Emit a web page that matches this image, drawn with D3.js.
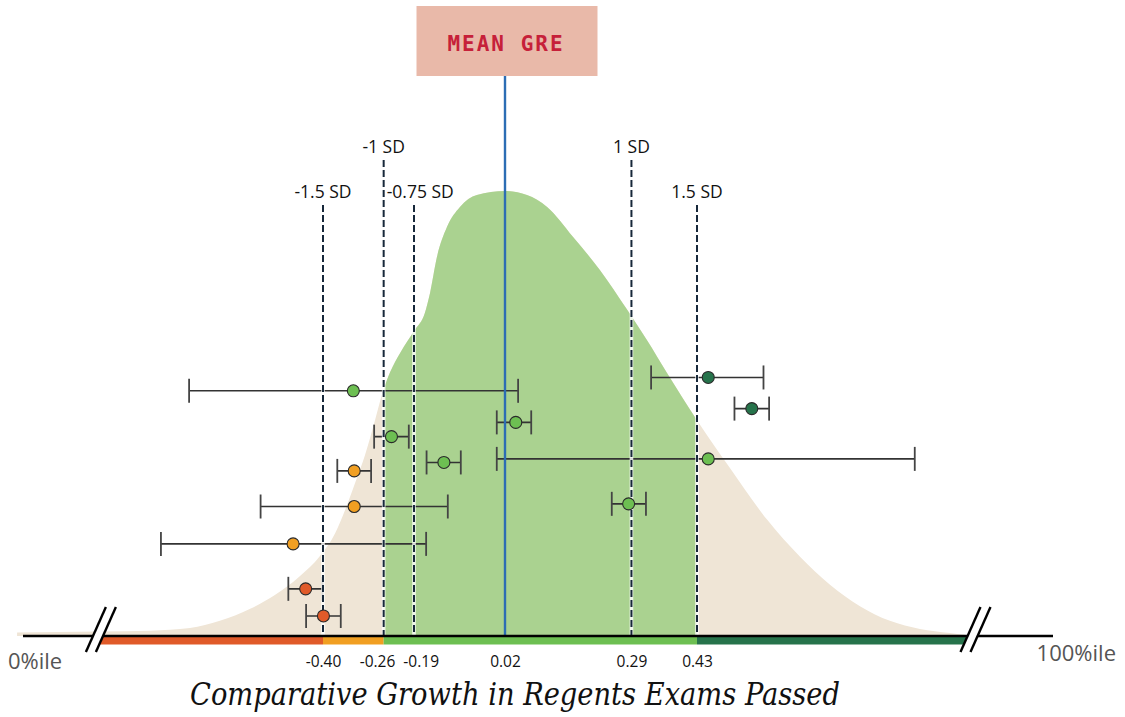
<!DOCTYPE html>
<html>
<head>
<meta charset="utf-8">
<script src="https://cdn.jsdelivr.net/npm/d3@7/dist/d3.min.js"></script>
<style>
  html, body { margin: 0; padding: 0; background: #ffffff; }
  svg { display: block; }
</style>
</head>
<body>
<svg id="chart" width="1125" height="717"></svg>
<script>
// ---------------- DATA ----------------
// Distribution curve (growth value, relative density)
const curveGrowth = [-1.106, -0.915, -0.799, -0.707, -0.638, -0.568, -0.511, -0.453, -0.407, -0.372, -0.349, -0.326, -0.303, -0.280, -0.264, -0.245, -0.222, -0.188, -0.165, -0.153, -0.137, -0.114, -0.084, -0.045, 0.020, 0.067, 0.110, 0.165, 0.223, 0.281, 0.323, 0.366, 0.430, 0.500, 0.580, 0.650, 0.714, 0.778, 0.842, 0.906, 0.970, 1.002];
const curveDensity = [0.008, 0.010, 0.012, 0.018, 0.034, 0.061, 0.092, 0.135, 0.180, 0.231, 0.283, 0.344, 0.407, 0.485, 0.542, 0.593, 0.636, 0.688, 0.726, 0.771, 0.852, 0.919, 0.964, 0.991, 1.000, 0.991, 0.964, 0.897, 0.822, 0.733, 0.665, 0.591, 0.485, 0.378, 0.261, 0.178, 0.115, 0.067, 0.034, 0.016, 0.007, 0.003];

// Standard deviation reference lines
const sdUnits = [-1.5, -1, -0.75, 1, 1.5];
const sdValues = [-0.40, -0.26, -0.19, 0.29, 0.43];
const sdLabels = ["-1.5 SD", "-1 SD", "-0.75 SD", "1 SD", "1.5 SD"];

// Mean
const meanValue = 0.02;
const meanLabel = "MEAN GRE";

// Axis ticks
const tickValues = [-0.40, -0.26, -0.19, 0.02, 0.29, 0.43];
const tickLabels = ["-0.40", "-0.26", "-0.19", "0.02", "0.29", "0.43"];

// Colour bands along the axis (growth value edges)
const bandEdges = [-0.92, -0.40, -0.26, 0.43, 1.01];
const bandNames = ["farBelow", "below", "typical", "above"];

// Schools: estimate, interval, vertical row, band
const pointGrowth = [-0.330, 0.454, 0.547, 0.043, -0.242, -0.121, 0.454, -0.328, -0.328, 0.284, -0.469, -0.440, -0.399];
const pointLow    = [-0.709, 0.332, 0.510, 0.001, -0.282, -0.161, 0.001, -0.367, -0.544, 0.248, -0.774, -0.480, -0.439];
const pointHigh   = [ 0.048, 0.572, 0.584, 0.076, -0.202, -0.082, 0.895, -0.289, -0.112, 0.321, -0.162, -0.401, -0.359];
const pointRow    = [ 0.551, 0.581, 0.511, 0.480, 0.448, 0.390, 0.398, 0.371, 0.291, 0.297, 0.207, 0.106, 0.045];
const pointBand   = ["typical", "above", "above", "typical", "typical", "typical", "typical", "below", "below", "typical", "below", "farBelow", "farBelow"];

const leftEndLabel = "0%ile";
const rightEndLabel = "100%ile";
const titleText = "Comparative Growth in Regents Exams Passed";

// ---------------- LAYOUT ----------------
const svg = d3.select("#chart");
const axisY = 636;
const x = d3.scaleLinear().domain([-0.40, 0.02, 0.43]).range([323, 505, 697]);
const y = d3.scaleLinear().domain([0, 1]).range([axisY, 191]);

const bandColor = d3.scaleOrdinal()
  .domain(["farBelow", "below", "typical", "above"])
  .range(["#e05a29", "#f19f22", "#6dbf52", "#26734b"]);

const curveData = curveGrowth.map((g, i) => ({ g, d: curveDensity[i] }));
const area = d3.area()
  .x(d => x(d.g))
  .y0(y(0))
  .y1(d => y(d.d))
  .curve(d3.curveMonotoneX);

const defs = svg.append("defs");
defs.append("clipPath").attr("id", "typicalClip")
  .append("rect")
  .attr("x", x(-0.26)).attr("y", 0)
  .attr("width", x(0.43) - x(-0.26)).attr("height", axisY);

svg.append("path").datum(curveData)
  .attr("d", area)
  .attr("fill", "#efe5d6");

svg.append("path").datum(curveData)
  .attr("d", area)
  .attr("fill", "#aad290")
  .attr("clip-path", "url(#typicalClip)");

// ---------------- ERROR BARS ----------------
const pts = pointGrowth.map((g, i) => ({ g, lo: pointLow[i], hi: pointHigh[i], r: pointRow[i], band: pointBand[i] }));
const capH = 12;
const eb = svg.append("g");
eb.selectAll("line.span").data(pts).join("line")
  .attr("class", "span")
  .attr("x1", d => x(d.lo)).attr("x2", d => x(d.hi))
  .attr("y1", d => y(d.r)).attr("y2", d => y(d.r))
  .attr("stroke", "#333").attr("stroke-width", 1.6);
eb.selectAll("line.capL").data(pts).join("line")
  .attr("class", "capL")
  .attr("x1", d => x(d.lo)).attr("x2", d => x(d.lo))
  .attr("y1", d => y(d.r) - capH).attr("y2", d => y(d.r) + capH)
  .attr("stroke", "#444").attr("stroke-width", 1.8);
eb.selectAll("line.capR").data(pts).join("line")
  .attr("class", "capR")
  .attr("x1", d => x(d.hi)).attr("x2", d => x(d.hi))
  .attr("y1", d => y(d.r) - capH).attr("y2", d => y(d.r) + capH)
  .attr("stroke", "#444").attr("stroke-width", 1.8);

// ---------------- SD LINES ----------------
const sd = sdValues.map((v, i) => ({ v, u: sdUnits[i], label: sdLabels[i] }));
const topFor = d => Math.abs(d.u) === 1 ? 160 : 205;
const sdG = svg.append("g");
sdG.selectAll("line.halo").data(sd).join("line")
  .attr("class", "halo")
  .attr("x1", d => x(d.v)).attr("x2", d => x(d.v))
  .attr("y1", topFor).attr("y2", axisY)
  .attr("stroke", "#ffffff").attr("stroke-opacity", 0.8).attr("stroke-width", 3.6);
sdG.selectAll("line.dash").data(sd).join("line")
  .attr("class", "dash")
  .attr("x1", d => x(d.v)).attr("x2", d => x(d.v))
  .attr("y1", topFor).attr("y2", axisY)
  .attr("stroke", "#17283a").attr("stroke-width", 2)
  .attr("stroke-dasharray", "7,3");
sdG.selectAll("text").data(sd).join("text")
  .attr("x", d => d.u === -0.75 ? x(-0.26) + 3 : x(d.v))
  .attr("y", d => Math.abs(d.u) === 1 ? 153 : 197.5)
  .attr("text-anchor", d => d.u === -0.75 ? "start" : "middle")
  .attr("font-family", "'Open Sans', 'Noto Sans', sans-serif")
  .attr("font-size", 17.5)
  .attr("fill", "#111")
  .text(d => d.label);

// ---------------- MEAN LINE + BOX ----------------
svg.append("line")
  .attr("x1", x(meanValue)).attr("x2", x(meanValue))
  .attr("y1", 76).attr("y2", axisY)
  .attr("stroke", "#2c6db4").attr("stroke-width", 2.4);
const boxW = 181;
svg.append("rect")
  .attr("x", x(meanValue) - boxW / 2 + 2).attr("y", 6)
  .attr("width", boxW).attr("height", 70)
  .attr("fill", "#e9b9a9");
svg.append("text")
  .attr("x", x(meanValue) + 1).attr("y", 51)
  .attr("text-anchor", "middle")
  .attr("font-family", "'DejaVu Sans Mono', 'Liberation Mono', monospace")
  .attr("font-weight", "bold")
  .attr("font-size", 21)
  .attr("letter-spacing", 2)
  .attr("fill", "#c62039")
  .text(meanLabel);

// ---------------- AXIS + BANDS ----------------
const bands = bandNames.map((b, i) => ({ b, x0: bandEdges[i], x1: bandEdges[i + 1] }));
svg.append("g").selectAll("rect").data(bands).join("rect")
  .attr("x", d => x(d.x0)).attr("y", axisY + 1)
  .attr("width", d => x(d.x1) - x(d.x0)).attr("height", 7.5)
  .attr("fill", d => bandColor(d.b));

svg.append("line")
  .attr("x1", 23).attr("x2", 1053)
  .attr("y1", axisY).attr("y2", axisY)
  .attr("stroke", "#000").attr("stroke-width", 2.6);

function drawBreak(cx) {
  const k = 20 / 45;
  const yTop = 607, yBot = 652;
  const xa = yy => cx - 5 + (axisY - yy) * k;
  const xb = yy => cx + 5 + (axisY - yy) * k;
  const g = svg.append("g");
  g.append("polygon")
    .attr("points", [[xa(yBot), yBot], [xa(yTop), yTop], [xb(yTop), yTop], [xb(yBot), yBot]].map(p => p.join(",")).join(" "))
    .attr("fill", "#ffffff");
  [xa, xb].forEach(f => {
    g.append("line")
      .attr("x1", f(yBot)).attr("y1", yBot)
      .attr("x2", f(yTop)).attr("y2", yTop)
      .attr("stroke", "#000").attr("stroke-width", 2.4);
  });
}
drawBreak(98);
drawBreak(972.6);

const axis = d3.axisBottom(x)
  .tickValues(tickValues)
  .tickFormat((d, i) => tickLabels[i])
  .tickSize(0)
  .tickPadding(20);
const ax = svg.append("g").attr("transform", `translate(0,${axisY})`).call(axis);
ax.select(".domain").remove();
const tickTexts = ax.selectAll("text")
  .attr("font-family", "'Open Sans', 'Noto Sans', sans-serif")
  .attr("font-size", 15.5)
  .attr("fill", "#111");

// push overlapping tick labels apart
(function separate() {
  const nodes = tickTexts.nodes();
  const gap = 8;
  const info = nodes.map((n, i) => ({ n, c: x(tickValues[i]), w: n.getComputedTextLength(), s: 0 }));
  for (let iter = 0; iter < 20; iter++) {
    for (let i = 0; i < info.length - 1; i++) {
      const a = info[i], b = info[i + 1];
      const overlap = (a.c + a.s + a.w / 2 + gap) - (b.c + b.s - b.w / 2);
      if (overlap > 0) { a.s -= overlap / 2; b.s += overlap / 2; }
    }
  }
  info.forEach(o => d3.select(o.n).attr("dx", o.s));
})();

// ---------------- POINTS ----------------
svg.append("g").selectAll("circle").data(pts).join("circle")
  .attr("cx", d => x(d.g)).attr("cy", d => y(d.r))
  .attr("r", 6)
  .attr("fill", d => bandColor(d.band))
  .attr("stroke", "#2a2a2a").attr("stroke-width", 1.1);

// ---------------- END LABELS + TITLE ----------------
svg.append("text")
  .attr("x", 8).attr("y", 669)
  .attr("font-family", "'Open Sans', 'Noto Sans', sans-serif")
  .attr("font-size", 22)
  .attr("fill", "#555")
  .text(leftEndLabel);
svg.append("text")
  .attr("x", 1116).attr("y", 661)
  .attr("text-anchor", "end")
  .attr("font-family", "'Open Sans', 'Noto Sans', sans-serif")
  .attr("font-size", 22)
  .attr("fill", "#555")
  .text(rightEndLabel);

svg.append("text")
  .attr("x", 190).attr("y", 705)
  .attr("font-family", "'DejaVu Serif', 'Liberation Serif', serif")
  .attr("font-style", "italic")
  .attr("font-size", 31)
  .attr("textLength", 650)
  .attr("lengthAdjust", "spacingAndGlyphs")
  .attr("fill", "#111")
  .text(titleText);
</script>
</body>
</html>
